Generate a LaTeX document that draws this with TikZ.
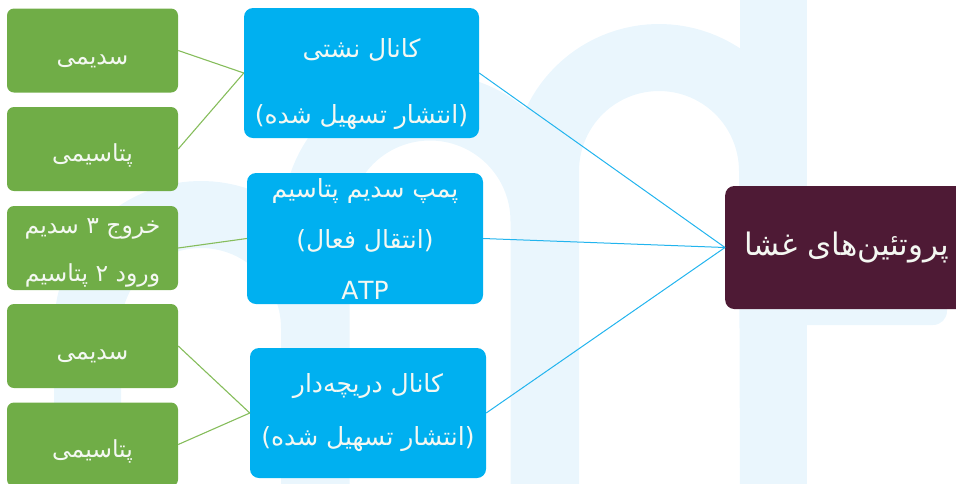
\documentclass[tikz,border=0pt]{standalone}
\usepackage{fontspec}
\newfontfamily\fa[Script=Arabic]{DejaVu Sans}
\TeXXeTstate=1
\newcommand\fatext[1]{\beginR #1\endR}
\definecolor{gr}{HTML}{70AD47}
\definecolor{bl}{HTML}{00B0F0}
\definecolor{pu}{HTML}{4E1A35}
\definecolor{wm}{HTML}{EAF6FD}
\definecolor{glc}{HTML}{86BD5C}
\definecolor{blc}{HTML}{22B4EE}
\definecolor{tx}{HTML}{F4F8F2}
\begin{document}
\begin{tikzpicture}[x=1pt,y=-1pt,
  wmark/.style={draw=wm, line width=67pt},
  greenbox/.style={fill=gr, rounded corners=7pt, minimum width=171pt, minimum height=84pt, inner sep=0pt, text=tx, align=center, font=\fa\fontsize{23.5}{48}\selectfont},
  bluebox/.style={fill=bl, rounded corners=9pt, minimum width=235pt, minimum height=130pt, inner sep=0pt, text=tx, align=center},
  rootbox/.style={fill=pu, rounded corners=9pt, minimum height=123pt, inner xsep=19pt, inner ysep=0pt, text=tx, font=\fa\fontsize{31}{36}\selectfont},
  gline/.style={draw=glc, line width=1.1pt},
  bline/.style={draw=blc, line width=1pt}]
\useasboundingbox (0,0) rectangle (956,483);
\clip (0,0) rectangle (956,483);
% watermark
\fill[wm] (740,0) rectangle (807,483);
\fill[wm, rounded corners=14pt] (790,200) rectangle (947,325);
\draw[wmark] (88,490) -- plot[domain=180:360,samples=60] ({201+113.5*cos(\x)},{328+113.5*sin(\x)}) -- (314.5,490);
\draw[wmark] (316,490) -- plot[domain=180:360,samples=60] ({430+114*cos(\x)},{221+114*sin(\x)}) -- (544,490);
\draw[wmark] (545.5,490) -- plot[domain=180:360,samples=60] ({659+113.5*cos(\x)},{171+113.5*sin(\x)}) -- (773.5,490);
% nodes
\node[greenbox] (g1) at (92.5,50.5) {\rule{0pt}{31pt}\fatext{سدیمی}};
\node[greenbox] (g2) at (92.5,149) {\rule{0pt}{31pt}\fatext{پتاسیمی}};
\node[greenbox] (g3) at (92.5,248) {\rule{0pt}{24pt}\fatext{خروج ۳ سدیم}\\\fatext{ورود ۲ پتاسیم}};
\node[greenbox] (g4) at (92.5,346) {\rule{0pt}{31pt}\fatext{سدیمی}};
\node[greenbox] (g5) at (92.5,444.5) {\rule{0pt}{31pt}\fatext{پتاسیمی}};
\node[bluebox, font=\fa\fontsize{25}{66}\selectfont] (b1) at (361.5,73) {\rule{0pt}{42pt}\fatext{کانال نشتی}\\\fatext{(انتشار تسهیل شده)}};
\node[bluebox, minimum width=236pt, minimum height=131pt, font=\fa\fontsize{25}{51}\selectfont] (b2) at (365,238.5) {\fatext{پمپ سدیم پتاسیم}\\\fatext{(انتقال فعال)}\\ATP};
\node[bluebox, minimum width=236pt, font=\fa\fontsize{25}{53}\selectfont] (b3) at (368,413) {\fatext{کانال دریچه‌دار}\\\fatext{(انتشار تسهیل شده)}};
\node[rootbox, anchor=west] (root) at (725,247.5) {\fatext{پروتئین‌های غشا}};
% connectors
\draw[gline] (g1.east) -- (b1.west);
\draw[gline] (g2.east) -- (b1.west);
\draw[gline] (g3.east) -- (b2.west);
\draw[gline] (g4.east) -- (b3.west);
\draw[gline] (g5.east) -- (b3.west);
\draw[bline] (b1.east) -- (root.west);
\draw[bline] (b2.east) -- (root.west);
\draw[bline] (b3.east) -- (root.west);
\end{tikzpicture}
\end{document}
